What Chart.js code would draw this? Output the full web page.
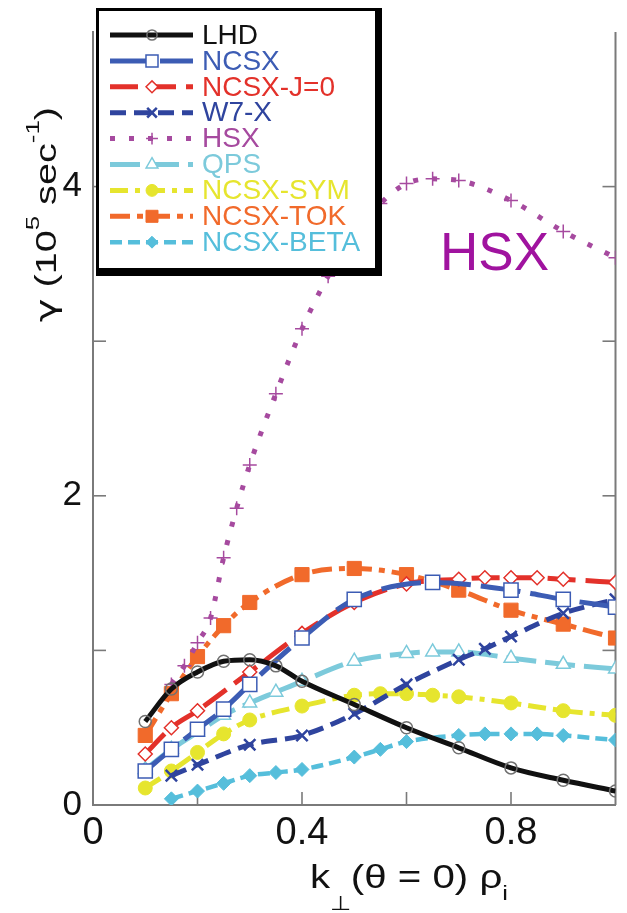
<!DOCTYPE html>
<html>
<head>
<meta charset="utf-8">
<script src="https://cdn.jsdelivr.net/npm/chart.js@4.4.1/dist/chart.umd.min.js"></script>
<style>
  html, body { margin: 0; padding: 0; background: #ffffff; }
  #wrap { width: 627px; height: 913px; }
</style>
</head>
<body>
<div id="wrap"><canvas id="growth" width="627" height="913"></canvas></div>
<script>
// Linear growth rate vs. k_perp rho_i for several stellarator / tokamak configurations
const seriesNames = ['LHD', 'NCSX', 'NCSX-J=0', 'W7-X', 'HSX', 'QPS', 'NCSX-SYM', 'NCSX-TOK', 'NCSX-BETA'];

const lhdK  = [0.1, 0.15, 0.2, 0.25, 0.3, 0.35, 0.4, 0.5, 0.6, 0.7, 0.8, 0.9, 1.0];
const lhdG  = [0.54, 0.75, 0.86, 0.93, 0.94, 0.90, 0.80, 0.65, 0.50, 0.37, 0.24, 0.16, 0.09];

const ncsxK = [0.1, 0.15, 0.2, 0.25, 0.3, 0.4, 0.5, 0.65, 0.8, 0.9, 1.0];
const ncsxG = [0.22, 0.36, 0.49, 0.62, 0.78, 1.08, 1.33, 1.44, 1.39, 1.33, 1.28];

const j0K   = [0.1, 0.15, 0.2, 0.3, 0.4, 0.5, 0.6, 0.7, 0.75, 0.8, 0.85, 0.9, 1.0];
const j0G   = [0.33, 0.50, 0.61, 0.86, 1.11, 1.31, 1.43, 1.46, 1.47, 1.47, 1.47, 1.46, 1.44];

const w7xK  = [0.15, 0.2, 0.3, 0.4, 0.5, 0.6, 0.7, 0.75, 0.8, 0.9, 1.0];
const w7xG  = [0.19, 0.26, 0.39, 0.45, 0.59, 0.78, 0.94, 1.01, 1.09, 1.24, 1.33];

const hsxK  = [0.15, 0.175, 0.2, 0.225, 0.25, 0.275, 0.3, 0.35, 0.4, 0.45, 0.5, 0.55, 0.6, 0.65, 0.7, 0.8, 0.9, 1.0];
const hsxG  = [0.78, 0.90, 1.05, 1.21, 1.60, 1.92, 2.20, 2.66, 3.08, 3.42, 3.68, 3.89, 4.02, 4.05, 4.04, 3.91, 3.71, 3.54];

const qpsK  = [0.1, 0.15, 0.2, 0.25, 0.3, 0.35, 0.4, 0.5, 0.6, 0.65, 0.7, 0.8, 0.9, 1.0];
const qpsG  = [0.23, 0.36, 0.47, 0.58, 0.66, 0.73, 0.80, 0.93, 0.98, 0.99, 0.99, 0.95, 0.91, 0.88];

const symK  = [0.1, 0.15, 0.2, 0.25, 0.3, 0.4, 0.5, 0.55, 0.6, 0.65, 0.7, 0.8, 0.9, 1.0];
const symG  = [0.11, 0.22, 0.34, 0.46, 0.55, 0.64, 0.71, 0.72, 0.72, 0.71, 0.70, 0.66, 0.61, 0.58];

const tokK  = [0.1, 0.15, 0.2, 0.25, 0.3, 0.4, 0.5, 0.6, 0.7, 0.8, 0.9, 1.0];
const tokG  = [0.45, 0.72, 0.96, 1.16, 1.31, 1.49, 1.53, 1.49, 1.39, 1.26, 1.17, 1.08];

const betaK = [0.15, 0.2, 0.25, 0.3, 0.35, 0.4, 0.5, 0.55, 0.6, 0.7, 0.75, 0.8, 0.85, 0.9, 1.0];
const betaG = [0.04, 0.09, 0.14, 0.19, 0.21, 0.23, 0.31, 0.36, 0.41, 0.45, 0.46, 0.46, 0.46, 0.45, 0.42];

const xTickValues = [0, 0.2, 0.4, 0.6, 0.8, 1.0];
const xTickLabels = ['0', '', '0.4', '', '0.8', ''];
const yTickValues = [0, 1, 2, 3, 4, 5];
const yTickLabels = ['0', '', '2', '', '4', ''];

const seriesK = [lhdK, ncsxK, j0K, w7xK, hsxK, qpsK, symK, tokK, betaK];
const seriesG = [lhdG, ncsxG, j0G, w7xG, hsxG, qpsG, symG, tokG, betaG];

// Line and marker appearance for each series
const looks = [
  { color: '#111111', width: 5,   dash: [],             point: 'circle',   r: 6,  fill: 'rgba(0,0,0,0)', pBorder: '#707070', pw: 1.5 },
  { color: '#3c5cb4', width: 5,   dash: [40, 10],       point: 'rect',     r: 10, fill: '#ffffff',       pBorder: '#3c5cb4', pw: 1.5 },
  { color: '#e3312a', width: 5,   dash: [28, 10],       point: 'rectRot',  r: 7,  fill: '#ffffff',       pBorder: '#e3312a', pw: 1.5 },
  { color: '#2f449e', width: 5,   dash: [16, 8],        point: 'crossRot', r: 8,  fill: '#2f449e',       pBorder: '#2f449e', pw: 2.5 },
  { color: '#a64a9f', width: 5,   dash: [5, 14],        point: 'cross',    r: 7,  fill: '#a64a9f',       pBorder: '#a64a9f', pw: 1.5 },
  { color: '#7ccadb', width: 5,   dash: [30, 9],        point: 'triangle', r: 8,  fill: '#ffffff',       pBorder: '#7ccadb', pw: 1.5 },
  { color: '#e6e52e', width: 5,   dash: [18, 7, 5, 7],  point: 'circle',   r: 7,  fill: '#e6e52e',       pBorder: '#e6e52e', pw: 1 },
  { color: '#f16a2b', width: 5,   dash: [20, 7, 6, 7],  point: 'rect',     r: 10, fill: '#f16a2b',       pBorder: '#f16a2b', pw: 1 },
  { color: '#55bedb', width: 4.5, dash: [12, 6],        point: 'rectRot',  r: 7,  fill: '#55bedb',       pBorder: '#55bedb', pw: 1 }
];

const FONT = "'Liberation Sans', Arial, Helvetica, sans-serif";
const GREEK = "'DejaVu Sans', 'Liberation Sans', sans-serif";
const axisColor = '#7a7a7a';

const datasets = seriesNames.map((name, i) => ({
  label: name,
  data: seriesK[i].map((k, j) => ({ x: k, y: seriesG[i][j] })),
  borderColor: looks[i].color,
  backgroundColor: looks[i].fill,
  borderWidth: looks[i].width,
  borderDash: looks[i].dash,
  borderCapStyle: 'butt',
  cubicInterpolationMode: 'monotone',
  pointStyle: looks[i].point,
  pointRadius: looks[i].r,
  pointBackgroundColor: looks[i].fill,
  pointBorderColor: looks[i].pBorder,
  pointBorderWidth: looks[i].pw,
  fill: false
}));

// Right-hand axis line and inward tick marks on the frame
const frameTicks = {
  id: 'frameTicks',
  beforeDatasetsDraw(chart) {
    const { ctx, chartArea: a, scales } = chart;
    ctx.save();
    ctx.strokeStyle = axisColor;
    ctx.lineWidth = 2;
    ctx.beginPath();
    ctx.moveTo(a.right, a.top);
    ctx.lineTo(a.right, a.bottom);
    ctx.stroke();
    ctx.lineWidth = 1.6;
    const len = 13;
    xTickValues.forEach(v => {
      if (v <= 0 || v >= 1) return;
      const px = scales.x.getPixelForValue(v);
      ctx.beginPath(); ctx.moveTo(px, a.bottom); ctx.lineTo(px, a.bottom - len); ctx.stroke();
    });
    yTickValues.forEach(v => {
      if (v <= 0 || v >= 5) return;
      const py = scales.y.getPixelForValue(v);
      ctx.beginPath(); ctx.moveTo(a.left, py); ctx.lineTo(a.left + len, py); ctx.stroke();
      ctx.beginPath(); ctx.moveTo(a.right, py); ctx.lineTo(a.right - len, py); ctx.stroke();
    });
    ctx.restore();
  }
};

// Draw a run of text pieces (normal / sub / superscript) stretched to a given length
function drawRuns(ctx, runs, x, y, targetLen) {
  const fontOf = r => r.size + 'px ' + (r.family || FONT);
  let total = 0;
  runs.forEach(r => { ctx.font = fontOf(r); total += ctx.measureText(r.t).width; });
  ctx.save();
  ctx.translate(x, y);
  ctx.scale(targetLen / total, 1);
  let cx = 0;
  runs.forEach(r => {
    ctx.font = fontOf(r);
    ctx.fillText(r.t, cx, r.dy || 0);
    cx += ctx.measureText(r.t).width;
  });
  ctx.restore();
}

// Framed legend box, axis titles and the HSX annotation
const overlay = {
  id: 'overlay',
  afterDatasetsDraw(chart) {
    const { ctx } = chart;
    ctx.save();
    // legend frame with heavy lower/right edge
    ctx.fillStyle = '#000000';
    ctx.fillRect(96, 8, 286, 268);
    ctx.fillStyle = '#ffffff';
    ctx.fillRect(99, 11, 276, 257);

    const x0 = 110, x1 = 193, xm = 152, tx = 202, rowTop = 35, rowGap = 25.9;
    chart.data.datasets.forEach((ds, i) => {
      const yy = rowTop + i * rowGap;
      ctx.save();
      ctx.strokeStyle = ds.borderColor;
      ctx.lineWidth = ds.borderWidth;
      ctx.setLineDash(ds.borderDash);
      ctx.lineCap = 'butt';
      ctx.beginPath(); ctx.moveTo(x0, yy); ctx.lineTo(x1, yy); ctx.stroke();
      ctx.setLineDash([]);
      ctx.fillStyle = ds.pointBackgroundColor;
      ctx.strokeStyle = ds.pointBorderColor;
      ctx.lineWidth = ds.pointBorderWidth;
      Chart.helpers.drawPoint(ctx, {
        pointStyle: ds.pointStyle, radius: ds.pointRadius * 0.85, rotation: 0, borderWidth: ds.pointBorderWidth
      }, xm, yy);
      ctx.restore();
      ctx.fillStyle = ds.borderColor;
      ctx.font = '28px ' + FONT;
      ctx.textBaseline = 'middle';
      ctx.textAlign = 'left';
      ctx.fillText(ds.label, tx, yy + 1);
    });

    // annotation
    ctx.fillStyle = '#a0139f';
    ctx.font = '53px ' + FONT;
    ctx.textBaseline = 'alphabetic';
    ctx.textAlign = 'left';
    ctx.fillText('HSX', 440, 270);

    // x-axis title: k⊥(θ = 0) ρi
    ctx.fillStyle = '#111111';
    ctx.textBaseline = 'alphabetic';
    drawRuns(ctx, [
      { t: 'k', size: 33 },
      { t: '\u22A5', size: 20, dy: 22 },
      { t: '(\u03B8 = 0) \u03C1', size: 33 },
      { t: 'i', size: 21, dy: 12 }
    ], 310, 888, 198);

    // y-axis title: γ (10^5 sec^-1), rotated
    ctx.save();
    ctx.translate(56, 322);
    ctx.rotate(-Math.PI / 2);
    drawRuns(ctx, [
      { t: '\u03B3', size: 29, family: GREEK },
      { t: ' (10', size: 29 },
      { t: '5', size: 19, dy: -17 },
      { t: ' sec', size: 29 },
      { t: '-1', size: 19, dy: -17 },
      { t: ')', size: 29 }
    ], 0, 0, 215);
    ctx.restore();
    ctx.restore();
  }
};

new Chart(document.getElementById('growth'), {
  type: 'line',
  data: { datasets },
  options: {
    responsive: false,
    animation: false,
    devicePixelRatio: 1,
    layout: { padding: { top: 5, right: 4, left: 0, bottom: 0 } },
    plugins: { legend: { display: false }, tooltip: { enabled: false } },
    scales: {
      x: {
        type: 'linear', min: 0, max: 1,
        afterBuildTicks: s => { s.ticks = xTickValues.map(v => ({ value: v })); },
        afterFit: s => { s.height = 108; },
        grid: { display: false, drawTicks: false },
        border: { display: true, color: axisColor, width: 2 },
        ticks: {
          color: '#111111', padding: 6, maxRotation: 0, autoSkip: false,
          font: { family: FONT, size: 38 },
          callback: v => { const i = xTickValues.findIndex(t => Math.abs(t - v) < 1e-9); return i >= 0 ? xTickLabels[i] : ''; }
        }
      },
      y: {
        type: 'linear', min: 0, max: 5,
        afterBuildTicks: s => { s.ticks = yTickValues.map(v => ({ value: v })); },
        afterFit: s => { s.width = 93; },
        grid: { display: false, drawTicks: false },
        border: { display: true, color: axisColor, width: 2 },
        ticks: {
          color: '#111111', padding: 11, autoSkip: false,
          font: { family: FONT, size: 35 },
          callback: v => { const i = yTickValues.findIndex(t => Math.abs(t - v) < 1e-9); return i >= 0 ? yTickLabels[i] : ''; }
        }
      }
    }
  },
  plugins: [frameTicks, overlay]
});
</script>
</body>
</html>
